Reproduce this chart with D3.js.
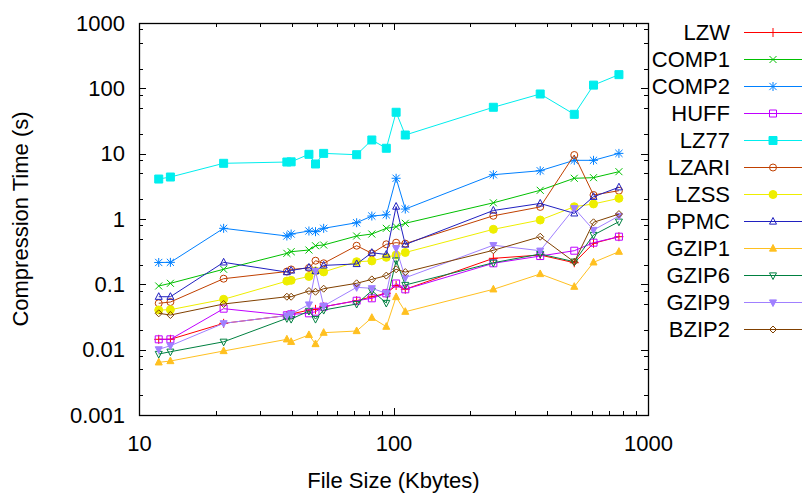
<!DOCTYPE html>
<html>
<head>
<meta charset="utf-8">
<script src="https://cdn.jsdelivr.net/npm/d3@7"></script>
<style>
  html, body { margin: 0; padding: 0; background: #fff; }
  svg { display: block; font-family: "Liberation Sans", Arial, Helvetica, sans-serif; }
</style>
</head>
<body>
<svg id="chart" width="803" height="496"></svg>
<script>
// File sizes of the test files (Kbytes)
const fileSizes = [11.954, 13.286, 21.504, 38.105, 39.611, 46.526, 49.379, 53.161, 71.646,
                   82.199, 93.695, 102.4, 111.261, 246.814, 377.109, 513.216, 610.856, 768.771];

// Compression times (s) per compressor, one value per file
const LZW   = [0.0144, 0.0144, 0.0253, 0.0333, 0.0351, 0.0404, 0.0414, 0.0454, 0.0561, 0.0646, 0.0729, 0.096, 0.084, 0.250, 0.281, 0.214, 0.425, 0.536];
const COMP1 = [0.0943, 0.1037, 0.170, 0.298, 0.316, 0.335, 0.39, 0.40, 0.549, 0.589, 0.72, 0.762, 0.859, 1.77, 2.75, 4.2, 4.29, 5.3];
const COMP2 = [0.216, 0.217, 0.72, 0.549, 0.589, 0.655, 0.64, 0.72, 0.877, 1.11, 1.16, 4.2, 1.42, 4.76, 5.48, 7.91, 7.91, 10.1];
const HUFF  = [0.0144, 0.0144, 0.0424, 0.0336, 0.0348, 0.036, 0.0381, 0.0454, 0.0561, 0.0611, 0.0729, 0.103, 0.0839, 0.210, 0.271, 0.327, 0.434, 0.536];
const LZ77  = [4.09, 4.39, 7.12, 7.45, 7.5, 9.78, 6.95, 10.1, 9.64, 16.2, 12.1, 43, 19.3, 51.3, 81.9, 40, 112, 162];
const LZARI = [0.0513, 0.0536, 0.122, 0.157, 0.169, 0.178, 0.230, 0.210, 0.39, 0.298, 0.41, 0.434, 0.42, 1.12, 1.53, 9.54, 2.33, 2.71];
const LZSS  = [0.0404, 0.0409, 0.059, 0.112, 0.115, 0.132, 0.160, 0.155, 0.222, 0.228, 0.259, 0.281, 0.307, 0.695, 0.965, 1.54, 1.70, 2.07];
const PPMC  = [0.0646, 0.0646, 0.217, 0.154, 0.163, 0.181, 0.160, 0.195, 0.205, 0.305, 0.286, 1.55, 0.407, 1.35, 1.73, 1.22, 2.19, 3.06];
const GZIP1 = [0.0064, 0.0067, 0.00954, 0.0144, 0.0132, 0.0168, 0.0122, 0.0182, 0.0193, 0.0308, 0.0225, 0.064, 0.0381, 0.0839, 0.144, 0.092, 0.217, 0.316];
const GZIP6 = [0.00858, 0.0093, 0.0132, 0.0302, 0.0294, 0.0391, 0.0294, 0.0404, 0.050, 0.080, 0.0518, 0.232, 0.0977, 0.214, 0.291, 0.222, 0.569, 0.909];
const GZIP9 = [0.0101, 0.0115, 0.0253, 0.0333, 0.0351, 0.0491, 0.16, 0.0466, 0.090, 0.0869, 0.0729, 0.356, 0.126, 0.397, 0.327, 1.46, 0.679, 1.11];
const BZIP2 = [0.0360, 0.0339, 0.050, 0.0646, 0.0646, 0.079, 0.077, 0.0857, 0.1037, 0.119, 0.136, 0.170, 0.154, 0.332, 0.536, 0.220, 0.89, 1.19];

const seriesNames = ["LZW", "COMP1", "COMP2", "HUFF", "LZ77", "LZARI", "LZSS", "PPMC", "GZIP1", "GZIP6", "GZIP9", "BZIP2"];
const seriesValues = [LZW, COMP1, COMP2, HUFF, LZ77, LZARI, LZSS, PPMC, GZIP1, GZIP6, GZIP9, BZIP2];
const seriesColors = ["#ff0000", "#00c000", "#0080ff", "#c000ff", "#00eeee", "#c04000",
                      "#eeee00", "#2020c0", "#ffc020", "#008040", "#a080ff", "#804000"];
const seriesMarkers = ["plus", "cross", "star", "squareOpen", "squareFilled", "circleOpen",
                       "circleFilled", "triUpOpen", "triUpFilled", "triDownOpen", "triDownFilled", "diamondOpen"];

const xTickValues = [10, 100, 1000];
const yTickValues = [0.001, 0.01, 0.1, 1, 10, 100, 1000];
const xTitle = "File Size (Kbytes)";
const yTitle = "Compression Time (s)";

const margin = { left: 139, right: 155, top: 23, bottom: 81 };
const W = 803, H = 496;
const plotW = W - margin.left - margin.right;
const plotH = H - margin.top - margin.bottom;

const svg = d3.select("#chart");
const x = d3.scaleLog().domain([10, 1000]).range([margin.left, margin.left + plotW]);
const y = d3.scaleLog().domain([0.001, 1000]).range([margin.top + plotH, margin.top]);

const fontSize = 22;

// Minor ticks: x at every integer multiple, y at 2, 5, 8 of each decade
const xMinor = [];
for (let d = 10; d < 1000; d *= 10) for (let m = 2; m <= 9; m++) xMinor.push(d * m);
const yMinor = [];
for (let d = 0.001; d < 999; d *= 10) for (const m of [2, 5, 8]) yMinor.push(+(d * m).toPrecision(3));

const axisG = svg.append("g").attr("stroke", "#000").attr("stroke-width", 1);
const majorLen = 7, minorLen = 4;
const x0 = margin.left, x1 = margin.left + plotW, y0 = margin.top, y1 = margin.top + plotH;

xMinor.concat(xTickValues).forEach(v => {
  const len = xTickValues.includes(v) ? majorLen : minorLen;
  const px = Math.round(x(v)) + 0.5;
  axisG.append("line").attr("x1", px).attr("x2", px).attr("y1", y1).attr("y2", y1 - len);
  axisG.append("line").attr("x1", px).attr("x2", px).attr("y1", y0).attr("y2", y0 + len);
});
yMinor.concat(yTickValues).forEach(v => {
  const len = yTickValues.includes(v) ? majorLen : minorLen;
  const py = Math.round(y(v)) + 0.5;
  axisG.append("line").attr("y1", py).attr("y2", py).attr("x1", x0).attr("x2", x0 + len);
  axisG.append("line").attr("y1", py).attr("y2", py).attr("x1", x1).attr("x2", x1 - len);
});

// Tick labels through d3 axes (tick lines hidden, drawn above)
const fmtX = d => String(d);
const fmtY = d => (d < 1 ? String(+d.toPrecision(1)) : String(d));
const xAxis = svg.append("g").attr("transform", `translate(0,${y1})`)
  .call(d3.axisBottom(x).tickValues(xTickValues).tickFormat(fmtX).tickSize(0).tickPadding(20));
const yAxis = svg.append("g").attr("transform", `translate(${x0},0)`)
  .call(d3.axisLeft(y).tickValues(yTickValues).tickFormat(fmtY).tickSize(0).tickPadding(14));
[xAxis, yAxis].forEach(g => {
  g.select(".domain").remove();
  g.selectAll("text").attr("font-size", fontSize).attr("font-family", "Liberation Sans, Arial, sans-serif").attr("fill", "#000");
});

// Marker paths centred on the origin
function markerPath(type, s) {
  const h = s / 2;
  switch (type) {
    case "plus": return `M${-h},0H${h}M0,${-h}V${h}`;
    case "cross": return `M${-h},${-h}L${h},${h}M${-h},${h}L${h},${-h}`;
    case "star": return `M${-h},0H${h}M0,${-h}V${h}M${-h * 0.8},${-h * 0.8}L${h * 0.8},${h * 0.8}M${-h * 0.8},${h * 0.8}L${h * 0.8},${-h * 0.8}`;
    case "squareOpen": case "squareFilled": return `M${-h},${-h}H${h}V${h}H${-h}Z`;
    case "circleOpen": case "circleFilled": return `M${h},0A${h},${h} 0 1,1 ${-h},0A${h},${h} 0 1,1 ${h},0Z`;
    case "triUpOpen": case "triUpFilled": return `M0,${-h * 1.15}L${h},${h * 0.75}L${-h},${h * 0.75}Z`;
    case "triDownOpen": case "triDownFilled": return `M0,${h * 1.15}L${h},${-h * 0.75}L${-h},${-h * 0.75}Z`;
    case "diamondOpen": return `M0,${-h}L${h},0L0,${h}L${-h},0Z`;
  }
}
function markerSize(type) {
  if (type === "plus" || type === "star") return 9;
  if (type === "cross") return 7;
  if (type === "circleFilled") return 8;
  if (type === "squareFilled") return 8;
  return 7;
}
function drawMarker(g, type, color, cx, cy) {
  const filled = /Filled/.test(type);
  g.append("path")
    .attr("d", markerPath(type, markerSize(type)))
    .attr("transform", `translate(${cx},${cy})`)
    .attr("fill", filled ? color : "none")
    .attr("stroke", color)
    .attr("stroke-width", 1);
}

const line = d3.line().x(d => x(d[0])).y(d => y(d[1]));
const plotG = svg.append("g");

seriesNames.forEach((name, i) => {
  const pts = fileSizes.map((s, j) => [s, seriesValues[i][j]]);
  const g = plotG.append("g");
  g.append("path").attr("d", line(pts)).attr("fill", "none")
    .attr("stroke", seriesColors[i]).attr("stroke-width", 1);
  pts.forEach(p => drawMarker(g, seriesMarkers[i], seriesColors[i], x(p[0]), y(p[1])));
});

// Frame
svg.append("rect").attr("x", x0 + 0.5).attr("y", y0 + 0.5).attr("width", plotW).attr("height", plotH)
  .attr("fill", "none").attr("stroke", "#000").attr("stroke-width", 1.3);

// Legend
const legend = svg.append("g");
const legTextX = 730, legLineX0 = 744, legLineX1 = 802, legMarkX = 773, legY0 = 32, legStep = 27;
seriesNames.forEach((name, i) => {
  const ly = legY0 + i * legStep;
  legend.append("text").attr("x", legTextX).attr("y", ly).attr("dy", "0.35em")
    .attr("text-anchor", "end").attr("font-size", fontSize).attr("fill", "#000").text(name);
  legend.append("line").attr("x1", legLineX0).attr("x2", legLineX1).attr("y1", ly + 0.5).attr("y2", ly + 0.5)
    .attr("stroke", seriesColors[i]).attr("stroke-width", 1);
  drawMarker(legend, seriesMarkers[i], seriesColors[i], legMarkX, ly + 0.5);
});

// Axis titles
svg.append("text").attr("x", (x0 + x1) / 2).attr("y", 488).attr("text-anchor", "middle")
  .attr("font-size", fontSize).attr("fill", "#000").text(xTitle);
svg.append("text").attr("transform", `translate(28,${(y0 + y1) / 2}) rotate(-90)`)
  .attr("text-anchor", "middle").attr("font-size", fontSize).attr("fill", "#000").text(yTitle);
</script>
</body>
</html>
